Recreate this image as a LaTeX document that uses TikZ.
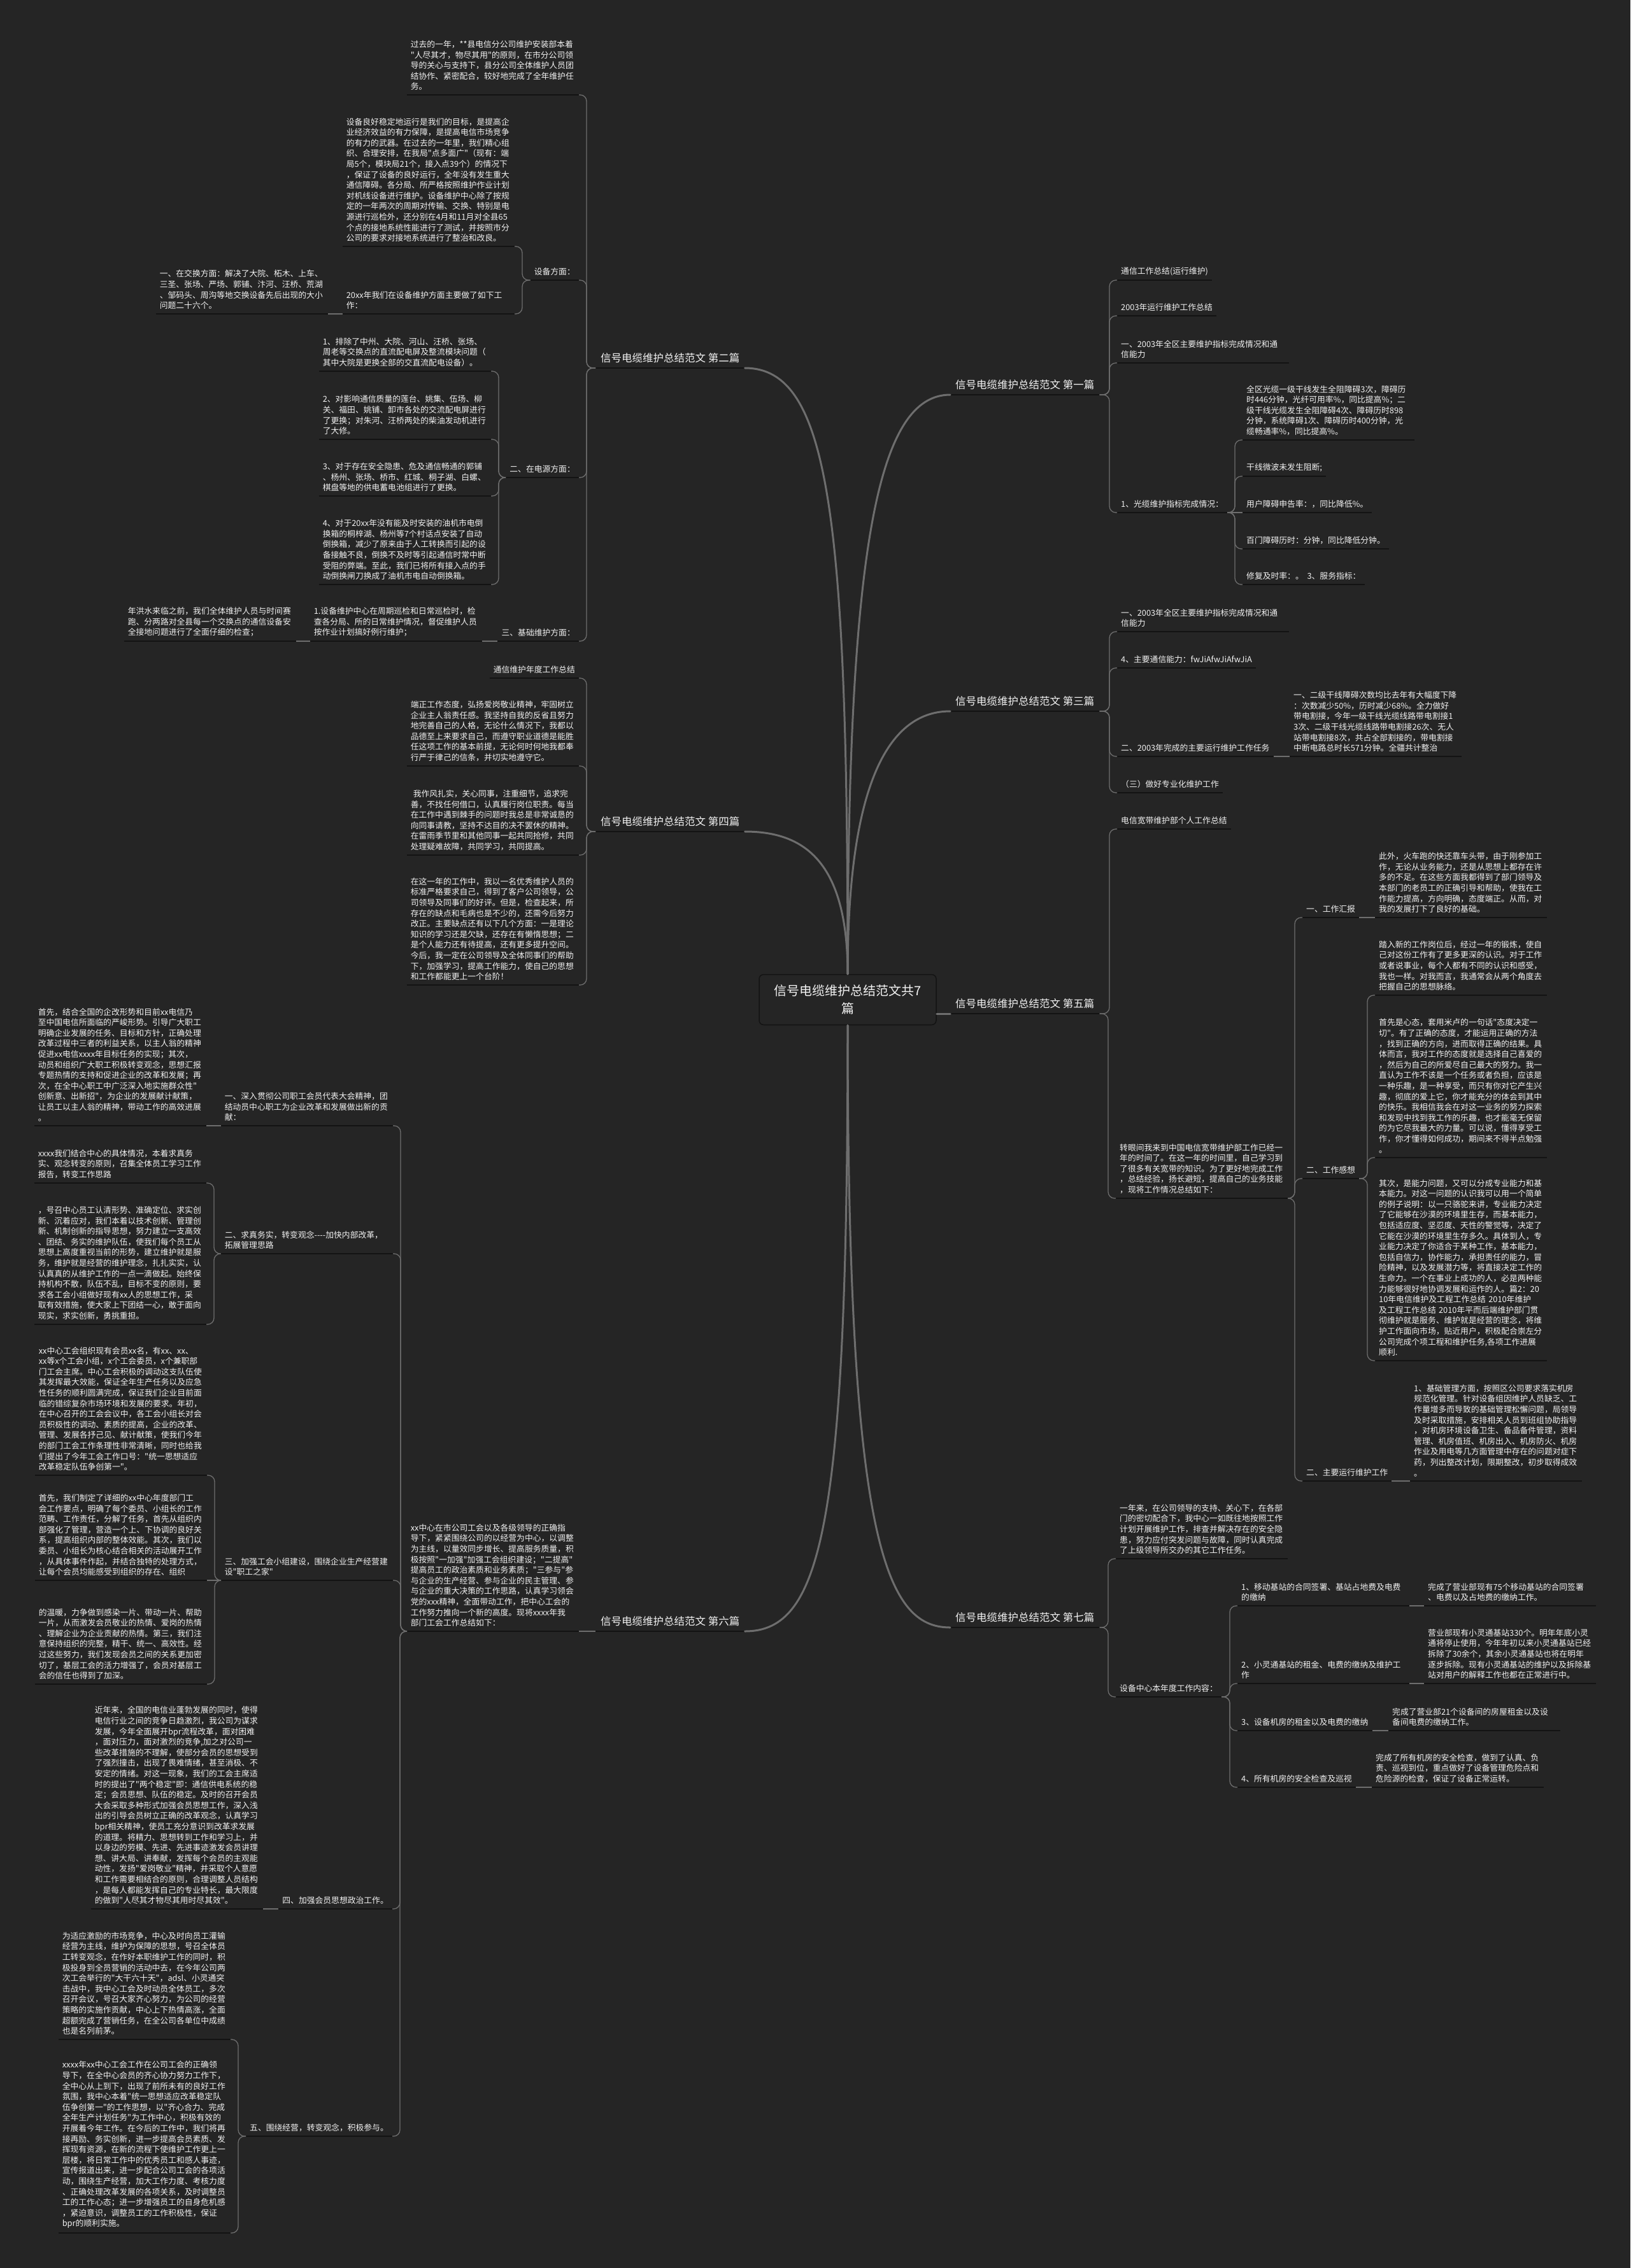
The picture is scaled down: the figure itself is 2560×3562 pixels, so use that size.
\documentclass[tikz,border=0pt]{standalone}
\usepackage{fontspec}
\newfontfamily\cjk{Noto Sans CJK SC}
\definecolor{bgc}{HTML}{252525}
\definecolor{linec}{HTML}{6E6E6E}
\definecolor{ulc}{HTML}{131313}
\definecolor{txtc}{HTML}{F2F2F2}
\tikzset{
  uline/.style={draw=ulc, line width=2pt},
  topic/.style={font=\cjk\fontsize{12.8}{16.6}\selectfont, text=txtc, align=left,
    inner xsep=6pt, inner ysep=7pt,
    append after command={(\tikzlastnode.south west) edge[uline] (\tikzlastnode.south east)}},
  tr/.style={topic, anchor=south west},
  tl/.style={topic, anchor=south east},
  para/.style={text width=258pt},
  branch/.style={topic, font=\cjk\fontsize{16.5}{20}\selectfont, inner xsep=8pt, inner ysep=8pt, anchor=south west},
  conn/.style={draw=linec, line width=1.3pt, rounded corners=10pt},
  trunk/.style={draw=linec, line width=3pt, line cap=round},
  root/.style={fill=bgc, draw=ulc, line width=1.5pt, rounded corners=7pt, text=txtc,
    font=\cjk\fontsize{20}{28}\selectfont, align=center, minimum width=278pt, minimum height=79pt}
}

\begin{document}
\begin{tikzpicture}[x=1pt,y=-1pt]
	\fill[bgc] (0,0) rectangle (2560,3562);
	\useasboundingbox (0,0) rectangle (2560,3562);
	% centre
	\node[root] (root) at (1331,1570) {信号电缆维护总结范文共7\\篇};
	% main branches
	\node[branch] (b1) at (1492,620) {信号电缆维护总结范文 第一篇};
	\node[branch] (b2) at (935,578) {信号电缆维护总结范文 第二篇};
	\node[branch] (b3) at (1492,1117) {信号电缆维护总结范文 第三篇};
	\node[branch] (b4) at (935,1306) {信号电缆维护总结范文 第四篇};
	\node[branch] (b5) at (1492,1592) {信号电缆维护总结范文 第五篇};
	\node[branch] (b6) at (935,2562) {信号电缆维护总结范文 第六篇};
	\node[branch] (b7) at (1492,2556) {信号电缆维护总结范文 第七篇};
	\draw[trunk] (root.north) .. controls (1331,850) and (1380,620) .. (b1.south west);
	\draw[trunk] (root.north) .. controls (1331,800) and (1300,578) .. (b2.south east);
	\draw[trunk] (root.north) .. controls (1331,1220) and (1400,1117) .. (b3.south west);
	\draw[trunk] (root.north) .. controls (1331,1350) and (1260,1306) .. (b4.south east);
	\draw[trunk] (root.east |- b5.south west) -- (b5.south west);
	\draw[trunk] (root.south) .. controls (1331,2400) and (1290,2562) .. (b6.south east);
	\draw[trunk] (root.south) .. controls (1331,2420) and (1390,2556) .. (b7.south west);

	% first
	\node[tr] (n1a) at (1754,440) {通信工作总结(运行维护)};
	\node[tr] (n1b) at (1754,496) {2003年运行维护工作总结};
	\node[tr, para] (n1c) at (1754,570) {一、2003年全区主要维护指标完成情况和通\\信能力};
	\node[tr] (n1d) at (1754,805) {1、光缆维护指标完成情况：};
	\node[tr, para] (n1d1) at (1951,691) {全区光缆一级干线发生全阻障碍3次，障碍历\\时446分钟，光纤可用率\%，同比提高\%；二\\级干线光缆发生全阻障碍4次、障碍历时898\\分钟，系统障碍1次、障碍历时400分钟，光\\缆畅通率\%，同比提高\%。};
	\node[tr] (n1d2) at (1951,748) {干线微波未发生阻断;};
	\node[tr] (n1d3) at (1951,805) {用户障碍申告率：，同比降低\%。};
	\node[tr] (n1d4) at (1951,862) {百门障碍历时：分钟，同比降低分钟。};
	\node[tr] (n1d5) at (1951,918) {修复及时率：。\ \ 3、服务指标：};
	\draw[conn] (b1.south east) -| ([xshift=-12pt]n1a.south west) -- (n1a.south west);
	\draw[conn] (b1.south east) -| ([xshift=-12pt]n1b.south west) -- (n1b.south west);
	\draw[conn] (b1.south east) -| ([xshift=-12pt]n1c.south west) -- (n1c.south west);
	\draw[conn] (b1.south east) -| ([xshift=-12pt]n1d.south west) -- (n1d.south west);
	\draw[conn] (n1d.south east) -| ([xshift=-12pt]n1d1.south west) -- (n1d1.south west);
	\draw[conn] (n1d.south east) -| ([xshift=-12pt]n1d2.south west) -- (n1d2.south west);
	\draw[conn] (n1d.south east) -- (n1d3.south west);
	\draw[conn] (n1d.south east) -| ([xshift=-12pt]n1d4.south west) -- (n1d4.south west);
	\draw[conn] (n1d.south east) -| ([xshift=-12pt]n1d5.south west) -- (n1d5.south west);

	% second
	\node[tl, para] (n2a) at (909,149) {过去的一年，**县电信分公司维护安装部本着\\"人尽其才，物尽其用"的原则，在市分公司领\\导的关心与支持下，县分公司全体维护人员团\\结协作、紧密配合，较好地完成了全年维护任\\务。};
	\node[tl] (n2b) at (909,440) {设备方面：};
	\node[tl, para] (n2b1) at (808,387) {设备良好稳定地运行是我们的目标，是提高企\\业经济效益的有力保障，是提高电信市场竞争\\的有力的武器。在过去的一年里，我们精心组\\织、合理安排，在我局"点多面广"（现有：端\\局5个，模块局21个，接入点39个）的情况下\\，保证了设备的良好运行，全年没有发生重大\\通信障碍。各分局、所严格按照维护作业计划\\对机线设备进行维护。设备维护中心除了按规\\定的一年两次的周期对传输、交换、特别是电\\源进行巡检外，还分别在4月和11月对全县65\\个点的接地系统性能进行了测试，并按照市分\\公司的要求对接地系统进行了整治和改良。};
	\node[tl, para] (n2b2) at (808,493) {20xx年我们在设备维护方面主要做了如下工\\作：};
	\node[tl, para] (n2b2a) at (515,493) {一、在交换方面：解决了大院、柘木、上车、\\三圣、张场、严场、郭铺、汴河、汪桥、荒湖\\、邹码头、周沟等地交换设备先后出现的大小\\问题二十六个。};
	\node[tl] (n2c) at (909,750) {二、在电源方面：};
	\node[tl, para] (n2c1) at (771,583) {1、排除了中州、大院、河山、汪桥、张场、\\周老等交换点的直流配电屏及整流模块问题（\\其中大院是更换全部的交直流配电设备）。};
	\node[tl, para] (n2c2) at (771,690) {2、对影响通信质量的莲台、姚集、伍场、柳\\关、福田、姚铺、卸市各处的交流配电屏进行\\了更换；对朱河、汪桥两处的柴油发动机进行\\了大修。};
	\node[tl, para] (n2c3) at (771,779) {3、对于存在安全隐患、危及通信畅通的郭铺\\、杨州、张场、桥市、红城、桐子湖、白螺、\\棋盘等地的供电蓄电池组进行了更换。};
	\node[tl, para] (n2c4) at (771,918) {4、对于20xx年没有能及时安装的油机市电倒\\换箱的桐梓湖、杨州等7个村话点安装了自动\\倒换箱，减少了原来由于人工转换而引起的设\\备接触不良，倒换不及时等引起通信时常中断\\受阻的弊端。至此，我们已将所有接入点的手\\动倒换闸刀换成了油机市电自动倒换箱。};
	\node[tl] (n2d) at (909,1007) {三、基础维护方面：};
	\node[tl, para] (n2d1) at (757,1007) {1.设备维护中心在周期巡检和日常巡检时，检\\查各分局、所的日常维护情况，督促维护人员\\按作业计划搞好例行维护；};
	\node[tl, para] (n2d1a) at (465,1007) {年洪水来临之前，我们全体维护人员与时间赛\\跑、分两路对全县每一个交换点的通信设备安\\全接地问题进行了全面仔细的检查；};
	\draw[conn] (b2.south west) -| ([xshift=12pt]n2a.south east) -- (n2a.south east);
	\draw[conn] (b2.south west) -| ([xshift=12pt]n2b.south east) -- (n2b.south east);
	\draw[conn] (b2.south west) -| ([xshift=12pt]n2c.south east) -- (n2c.south east);
	\draw[conn] (b2.south west) -| ([xshift=12pt]n2d.south east) -- (n2d.south east);
	\draw[conn] (n2b.south west) -| ([xshift=12pt]n2b1.south east) -- (n2b1.south east);
	\draw[conn] (n2b.south west) -| ([xshift=12pt]n2b2.south east) -- (n2b2.south east);
	\draw[conn] (n2b2.south west) -- (n2b2a.south east);
	\draw[conn] (n2c.south west) -| ([xshift=12pt]n2c1.south east) -- (n2c1.south east);
	\draw[conn] (n2c.south west) -| ([xshift=12pt]n2c2.south east) -- (n2c2.south east);
	\draw[conn] (n2c.south west) -| ([xshift=12pt]n2c3.south east) -- (n2c3.south east);
	\draw[conn] (n2c.south west) -| ([xshift=12pt]n2c4.south east) -- (n2c4.south east);
	\draw[conn] (n2d.south west) -- (n2d1.south east);
	\draw[conn] (n2d1.south west) -- (n2d1a.south east);

	% third
	\node[tr, para] (n3a) at (1754,992) {一、2003年全区主要维护指标完成情况和通\\信能力};
	\node[tr] (n3b) at (1754,1049) {4、主要通信能力：fwJiAfwJiAfwJiA};
	\node[tr] (n3c) at (1754,1188) {二、2003年完成的主要运行维护工作任务};
	\node[tr, para] (n3c1) at (2025,1188) {一、二级干线障碍次数均比去年有大幅度下降\\：次数减少50\%，历时减少68\%。全力做好\\带电割接，今年一级干线光缆线路带电割接1\\3次、二级干线光缆线路带电割接26次、无人\\站带电割接8次，共占全部割接的，带电割接\\中断电路总时长571分钟。全疆共计整治};
	\node[tr] (n3d) at (1754,1245) {（三）做好专业化维护工作};
	\draw[conn] (b3.south east) -| ([xshift=-12pt]n3a.south west) -- (n3a.south west);
	\draw[conn] (b3.south east) -| ([xshift=-12pt]n3b.south west) -- (n3b.south west);
	\draw[conn] (b3.south east) -| ([xshift=-12pt]n3c.south west) -- (n3c.south west);
	\draw[conn] (b3.south east) -| ([xshift=-12pt]n3d.south west) -- (n3d.south west);
	\draw[conn] (n3c.south east) -- (n3c1.south west);

	% fourth
	\node[tl] (n4a) at (909,1065) {通信维护年度工作总结};
	\node[tl, para] (n4b) at (909,1203) {端正工作态度，弘扬爱岗敬业精神，牢固树立\\企业主人翁责任感。我坚持自我的反省且努力\\地完善自己的人格，无论什么情况下，我都以\\品德至上来要求自己，而遵守职业道德是能胜\\任这项工作的基本前提，无论何时何地我都奉\\行严于律己的信条，并切实地遵守它。};
	\node[tl, para] (n4c) at (909,1343) {\hspace*{4pt}我作风扎实，关心同事，注重细节，追求完\\善，不找任何借口，认真履行岗位职责。每当\\在工作中遇到棘手的问题时我总是非常诚恳的\\向同事请教，坚持不达目的决不罢休的精神。\\在雷雨季节里和其他同事一起共同抢修，共同\\处理疑难故障，共同学习，共同提高。};
	\node[tl, para] (n4d) at (909,1547) {在这一年的工作中，我以一名优秀维护人员的\\标准严格要求自己，得到了客户公司领导，公\\司领导及同事们的好评。但是，检查起来，所\\存在的缺点和毛病也是不少的，还需今后努力\\改正。主要缺点还有以下几个方面：一是理论\\知识的学习还是欠缺，还存在有懒惰思想；二\\是个人能力还有待提高，还有更多提升空间。\\今后，我一定在公司领导及全体同事们的帮助\\下，加强学习，提高工作能力，使自己的思想\\和工作都能更上一个台阶！};
	\draw[conn] (b4.south west) -| ([xshift=12pt]n4a.south east) -- (n4a.south east);
	\draw[conn] (b4.south west) -| ([xshift=12pt]n4b.south east) -- (n4b.south east);
	\draw[conn] (b4.south west) -| ([xshift=12pt]n4c.south east) -- (n4c.south east);
	\draw[conn] (b4.south west) -| ([xshift=12pt]n4d.south east) -- (n4d.south east);

	% fifth
	\node[tr] (n5a) at (1754,1302) {电信宽带维护部个人工作总结};
	\node[tr, para] (n5b) at (1752,1882) {转眼间我来到中国电信宽带维护部工作已经一\\年的时间了。在这一年的时间里，自己学习到\\了很多有关宽带的知识。为了更好地完成工作\\，总结经验，扬长避短，提高自己的业务技能\\，现将工作情况总结如下：};
	\node[tr] (n5b1) at (2045,1441) {一、工作汇报};
	\node[tr, para] (n5b1a) at (2159,1441) {此外，火车跑的快还靠车头带，由于刚参加工\\作，无论从业务能力，还是从思想上都存在许\\多的不足。在这些方面我都得到了部门领导及\\本部门的老员工的正确引导和帮助，使我在工\\作能力提高，方向明确，态度端正。从而，对\\我的发展打下了良好的基础。};
	\node[tr] (n5b2) at (2045,1851) {二、工作感想};
	\node[tr, para] (n5b2a) at (2159,1563) {踏入新的工作岗位后，经过一年的锻炼，使自\\己对这份工作有了更多更深的认识。对于工作\\或者说事业，每个人都有不同的认识和感受，\\我也一样。对我而言，我通常会从两个角度去\\把握自己的思想脉络。};
	\node[tr, para] (n5b2b) at (2159,1818) {首先是心态，套用米卢的一句话"态度决定一\\切"。有了正确的态度，才能运用正确的方法\\，找到正确的方向，进而取得正确的结果。具\\体而言，我对工作的态度就是选择自己喜爱的\\，然后为自己的所爱尽自己最大的努力。我一\\直认为工作不该是一个任务或者负担，应该是\\一种乐趣，是一种享受，而只有你对它产生兴\\趣，彻底的爱上它，你才能充分的体会到其中\\的快乐。我相信我会在对这一业务的努力探索\\和发现中找到我工作的乐趣，也才能毫无保留\\的为它尽我最大的力量。可以说，懂得享受工\\作，你才懂得如何成功，期间来不得半点勉强\\。};
	\node[tr, para] (n5b2c) at (2159,2137) {其次，是能力问题，又可以分成专业能力和基\\本能力。对这一问题的认识我可以用一个简单\\的例子说明：以一只骆驼来讲，专业能力决定\\了它能够在沙漠的环境里生存，而基本能力，\\包括适应度、坚忍度、天性的警觉等，决定了\\它能在沙漠的环境里生存多久。具体到人，专\\业能力决定了你适合于某种工作，基本能力，\\包括自信力，协作能力，承担责任的能力，冒\\险精神，以及发展潜力等，将直接决定工作的\\生命力。一个在事业上成功的人，必是两种能\\力能够很好地协调发展和运作的人。篇2：20\\10年电信维护及工程工作总结 2010年维护\\及工程工作总结 2010年平而后端维护部门贯\\彻维护就是服务、维护就是经营的理念，将维\\护工作面向市场，贴近用户，积极配合崇左分\\公司完成个项工程和维护任务,各项工作进展\\顺利.};
	\node[tr] (n5b3) at (2045,2326) {二、主要运行维护工作};
	\node[tr, para] (n5b3a) at (2214,2326) {1、基础管理方面，按照区公司要求落实机房\\规范化管理。针对设备组因维护人员缺乏、工\\作量增多而导致的基础管理松懈问题，局领导\\及时采取措施，安排相关人员到班组协助指导\\，对机房环境设备卫生、备品备件管理，资料\\管理、机房值班、机房出入、机房防火、机房\\作业及用电等几方面管理中存在的问题对症下\\药，列出整改计划，限期整改，初步取得成效\\。};
	\draw[conn] (b5.south east) -| ([xshift=-12pt]n5a.south west) -- (n5a.south west);
	\draw[conn] (b5.south east) -| ([xshift=-12pt]n5b.south west) -- (n5b.south west);
	\draw[conn] (n5b.south east) -| ([xshift=-12pt]n5b1.south west) -- (n5b1.south west);
	\draw[conn] (n5b.south east) -| ([xshift=-12pt]n5b2.south west) -- (n5b2.south west);
	\draw[conn] (n5b.south east) -| ([xshift=-12pt]n5b3.south west) -- (n5b3.south west);
	\draw[conn] (n5b1.south east) -- (n5b1a.south west);
	\draw[conn] (n5b2.south east) -| ([xshift=-12pt]n5b2a.south west) -- (n5b2a.south west);
	\draw[conn] (n5b2.south east) -| ([xshift=-12pt]n5b2b.south west) -- (n5b2b.south west);
	\draw[conn] (n5b2.south east) -| ([xshift=-12pt]n5b2c.south west) -- (n5b2c.south west);
	\draw[conn] (n5b3.south east) -- (n5b3a.south west);

	% sixth
	\node[tl, para] (n6) at (909,2562) {xx中心在市公司工会以及各级领导的正确指\\导下，紧紧围绕公司的以经营为中心，以调整\\为主线，以量效同步增长、提高服务质量，积\\极按照"一加强"加强工会组织建设；"二提高"\\提高员工的政治素质和业务素质；"三参与"参\\与企业的生产经营、参与企业的民主管理、参\\与企业的重大决策的工作思路，认真学习领会\\党的xxx精神，全面带动工作，把中心工会的\\工作努力推向一个新的高度。现将xxxx年我\\部门工会工作总结如下：};
	\node[tl, para] (n6a) at (617,1768) {一、深入贯彻公司职工会员代表大会精神，团\\结动员中心职工为企业改革和发展做出新的贡\\献：};
	\node[tl, para] (n6a1) at (324,1768) {首先，结合全国的企改形势和目前xx电信乃\\至中国电信所面临的严峻形势。引导广大职工\\明确企业发展的任务、目标和方针，正确处理\\改革过程中三者的利益关系，以主人翁的精神\\促进xx电信xxxx年目标任务的实现；其次，\\动员和组织广大职工积极转变观念，思想汇报\\专题热情的支持和促进企业的改革和发展；再\\次，在全中心职工中广泛深入地实施群众性"\\创新意、出新招"，为企业的发展献计献策，\\让员工以主人翁的精神，带动工作的高效进展\\。};
	\node[tl, para] (n6b) at (617,1969) {二、求真务实，转变观念-{}-{}-{}-加快内部改革，\\拓展管理思路};
	\node[tl, para] (n6b1) at (324,1858) {xxxx我们结合中心的具体情况，本着求真务\\实、观念转变的原则，召集全体员工学习工作\\报告，转变工作思路};
	\node[tl, para] (n6b2) at (324,2080) {，号召中心员工认清形势、准确定位、求实创\\新、沉着应对，我们本着以技术创新、管理创\\新、机制创新的指导思想，努力建立一支高效\\、团结、务实的维护队伍，使我们每个员工从\\思想上高度重视当前的形势，建立维护就是服\\务，维护就是经营的维护理念，扎扎实实，认\\认真真的从维护工作的一点一滴做起。始终保\\持机构不散，队伍不乱，目标不变的原则，要\\求各工会小组做好现有xx人的思想工作，采\\取有效措施，使大家上下团结一心，敢于面向\\现实，求实创新，勇挑重担。};
	\node[tl, para] (n6c) at (617,2482) {三、加强工会小组建设，围绕企业生产经营建\\设"职工之家"};
	\node[tl, para] (n6c1) at (325,2317) {xx中心工会组织现有会员xx名，有xx、xx、\\xx等x个工会小组，x个工会委员，x个兼职部\\门工会主席。中心工会积极的调动这支队伍使\\其发挥最大效能，保证全年生产任务以及应急\\性任务的顺利圆满完成，保证我们企业目前面\\临的错综复杂市场环境和发展的要求。年初，\\在中心召开的工会会议中，各工会小组长对会\\员积极性的调动、素质的提高，企业的改革、\\管理、发展各抒己见、献计献策，使我们今年\\的部门工会工作条理性非常清晰，同时也给我\\们提出了今年工会工作口号："统一思想适应\\改革稳定队伍争创第一"。};
	\node[tl, para] (n6c2) at (325,2482) {首先，我们制定了详细的xx中心年度部门工\\会工作要点，明确了每个委员、小组长的工作\\范畴、工作责任，分解了任务，首先从组织内\\部强化了管理，营造一个上、下协调的良好关\\系，提高组织内部的整体效能。其次，我们以\\委员、小组长为核心结合相关的活动展开工作\\，从具体事件作起，并结合独特的处理方式，\\让每个会员均能感受到组织的存在、组织};
	\node[tl, para] (n6c3) at (325,2645) {的温暖，力争做到感染一片、带动一片、帮助\\一片，从而激发会员敬业的热情、爱岗的热情\\、理解企业为企业贡献的热情。第三，我们注\\意保持组织的完整，精干、统一、高效性。经\\过这些努力，我们发现会员之间的关系更加密\\切了，基层工会的活力增强了，会员对基层工\\会的信任也得到了加深。};
	\node[tl] (n6d) at (616,2998) {四、加强会员思想政治工作。};
	\node[tl, para] (n6d1) at (413,2998) {近年来，全国的电信业蓬勃发展的同时，使得\\电信行业之间的竞争日趋激烈，我公司为谋求\\发展，今年全面展开bpr流程改革，面对困难\\，面对压力，面对激烈的竞争,加之对公司一\\些改革措施的不理解，使部分会员的思想受到\\了强烈撞击，出现了畏难情绪，甚至消极、不\\安定的情绪。对这一现象，我们的工会主席适\\时的提出了"两个稳定"即：通信供电系统的稳\\定；会员思想、队伍的稳定。及时的召开会员\\大会采取多种形式加强会员思想工作，深入浅\\出的引导会员树立正确的改革观念，认真学习\\bpr相关精神，使员工充分意识到改革求发展\\的道理。将精力、思想转到工作和学习上，并\\以身边的劳模、先进、先进事迹激发会员讲理\\想、讲大局、讲奉献，发挥每个会员的主观能\\动性，发扬"爱岗敬业"精神，并采取个人意愿\\和工作需要相结合的原则，合理调整人员结构\\，是每人都能发挥自己的专业特长，最大限度\\的做到"人尽其才物尽其用时尽其效"。};
	\node[tl] (n6e) at (616,3355) {五、围绕经营，转变观念，积极参与。};
	\node[tl, para] (n6e1) at (362,3203) {为适应激励的市场竞争，中心及时向员工灌输\\经营为主线，维护为保障的思想，号召全体员\\工转变观念，在作好本职维护工作的同时，积\\极投身到全员营销的活动中去，在今年公司两\\次工会举行的"大干六十天"，adsl、小灵通突\\击战中，我中心工会及时动员全体员工，多次\\召开会议，号召大家齐心努力，为公司的经营\\策略的实施作贡献，中心上下热情高涨，全面\\超额完成了营销任务，在全公司各单位中成绩\\也是名列前茅。};
	\node[tl, para] (n6e2) at (362,3507) {xxxx年xx中心工会工作在公司工会的正确领\\导下，在全中心会员的齐心协力努力工作下，\\全中心从上到下，出现了前所未有的良好工作\\氛围，我中心本着"统一思想适应改革稳定队\\伍争创第一"的工作思想，以"齐心合力、完成\\全年生产计划任务"为工作中心，积极有效的\\开展着今年工作。在今后的工作中，我们将再\\接再励、务实创新，进一步提高会员素质、发\\挥现有资源，在新的流程下使维护工作更上一\\层楼，将日常工作中的优秀员工和感人事迹，\\宣传报道出来，进一步配合公司工会的各项活\\动，围绕生产经营，加大工作力度、考核力度\\、正确处理改革发展的各项关系，及时调整员\\工的工作心态；进一步增强员工的自身危机感\\，紧迫意识，调整员工的工作积极性，保证\\bpr的顺利实施。};
	\draw[conn] (b6.south west) -- (n6.south east);
	\draw[conn] (n6.south west) -| ([xshift=12pt]n6a.south east) -- (n6a.south east);
	\draw[conn] (n6.south west) -| ([xshift=12pt]n6b.south east) -- (n6b.south east);
	\draw[conn] (n6.south west) -| ([xshift=12pt]n6c.south east) -- (n6c.south east);
	\draw[conn] (n6.south west) -| ([xshift=12pt]n6d.south east) -- (n6d.south east);
	\draw[conn] (n6.south west) -| ([xshift=12pt]n6e.south east) -- (n6e.south east);
	\draw[conn] (n6a.south west) -- (n6a1.south east);
	\draw[conn] (n6b.south west) -| ([xshift=12pt]n6b1.south east) -- (n6b1.south east);
	\draw[conn] (n6b.south west) -| ([xshift=12pt]n6b2.south east) -- (n6b2.south east);
	\draw[conn] (n6c.south west) -| ([xshift=12pt]n6c1.south east) -- (n6c1.south east);
	\draw[conn] (n6c.south west) -- (n6c2.south east);
	\draw[conn] (n6c.south west) -| ([xshift=12pt]n6c3.south east) -- (n6c3.south east);
	\draw[conn] (n6d.south west) -- (n6d1.south east);
	\draw[conn] (n6e.south west) -| ([xshift=12pt]n6e1.south east) -- (n6e1.south east);
	\draw[conn] (n6e.south west) -| ([xshift=12pt]n6e2.south east) -- (n6e2.south east);

	% seventh
	\node[tr, para] (n7a) at (1752,2448) {一年来，在公司领导的支持、关心下，在各部\\门的密切配合下，我中心一如既往地按照工作\\计划开展维护工作，排查并解决存在的安全隐\\患，努力应付突发问题与故障，同时认真完成\\了上级领导所交办的其它工作任务。};
	\node[tr] (n7b) at (1752,2665) {设备中心本年度工作内容：};
	\node[tr, para] (n7b1) at (1943,2522) {1、移动基站的合同签署、基站占地费及电费\\的缴纳};
	\node[tr, para] (n7b1a) at (2236,2522) {完成了营业部现有75个移动基站的合同签署\\、电费以及占地费的缴纳工作。};
	\node[tr, para] (n7b2) at (1943,2644) {2、小灵通基站的租金、电费的缴纳及维护工\\作};
	\node[tr, para] (n7b2a) at (2236,2644) {营业部现有小灵通基站330个。明年年底小灵\\通将停止使用，今年年初以来小灵通基站已经\\拆除了30余个，其余小灵通基站也将在明年\\逐步拆除。现有小灵通基站的维护以及拆除基\\站对用户的解释工作也都在正常进行中。};
	\node[tr] (n7b3) at (1943,2718) {3、设备机房的租金以及电费的缴纳};
	\node[tr, para] (n7b3a) at (2180,2718) {完成了营业部21个设备间的房屋租金以及设\\备间电费的缴纳工作。};
	\node[tr] (n7b4) at (1943,2807) {4、所有机房的安全检查及巡视};
	\node[tr, para] (n7b4a) at (2154,2807) {完成了所有机房的安全检查，做到了认真、负\\责、巡视到位，重点做好了设备管理危险点和\\危险源的检查，保证了设备正常运转。};
	\draw[conn] (b7.south east) -| ([xshift=-12pt]n7a.south west) -- (n7a.south west);
	\draw[conn] (b7.south east) -| ([xshift=-12pt]n7b.south west) -- (n7b.south west);
	\draw[conn] (n7b.south east) -| ([xshift=-12pt]n7b1.south west) -- (n7b1.south west);
	\draw[conn] (n7b.south east) -| ([xshift=-12pt]n7b2.south west) -- (n7b2.south west);
	\draw[conn] (n7b.south east) -| ([xshift=-12pt]n7b3.south west) -- (n7b3.south west);
	\draw[conn] (n7b.south east) -| ([xshift=-12pt]n7b4.south west) -- (n7b4.south west);
	\draw[conn] (n7b1.south east) -- (n7b1a.south west);
	\draw[conn] (n7b2.south east) -- (n7b2a.south west);
	\draw[conn] (n7b3.south east) -- (n7b3a.south west);
	\draw[conn] (n7b4.south east) -- (n7b4a.south west);
\end{tikzpicture}
\end{document}
